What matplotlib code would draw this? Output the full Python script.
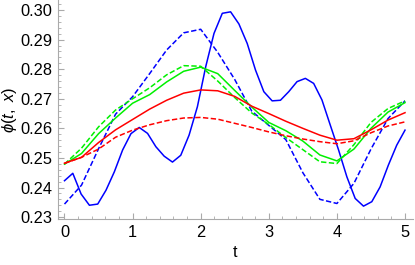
import numpy as np
import matplotlib.pyplot as plt
from matplotlib.ticker import MultipleLocator, FormatStrFormatter

plt.rcParams['font.family'] = ['Liberation Sans', 'DejaVu Sans']
plt.rcParams['mathtext.fontset'] = 'custom'
plt.rcParams['mathtext.rm'] = 'Liberation Sans'
plt.rcParams['mathtext.it'] = 'Liberation Sans:italic'

# smooth curves, read every 0.25 in t
t = [0.0, 0.25, 0.5, 0.75, 1.0, 1.25, 1.5, 1.75, 2.0, 2.25, 2.5,
     2.75, 3.0, 3.25, 3.5, 3.75, 4.0, 4.25, 4.5, 4.75, 5.0]

blue_dash = [0.2344, 0.2408, 0.2531, 0.2648, 0.2707, 0.2785, 0.2865, 0.2923, 0.2935, 0.2857, 0.2765,
             0.2658, 0.2610, 0.2562, 0.2450, 0.2360, 0.2346, 0.2414, 0.2530, 0.2633, 0.2693]
green_dash = [0.2479, 0.2533, 0.2605, 0.2662, 0.2700, 0.2737, 0.2781, 0.2812, 0.2810, 0.2760, 0.2704,
              0.2652, 0.2613, 0.2569, 0.2528, 0.2487, 0.2481, 0.2545, 0.2620, 0.2667, 0.2693]
green_solid = [0.2479, 0.2515, 0.2582, 0.2635, 0.2685, 0.2714, 0.2757, 0.2793, 0.2807, 0.2785, 0.2728,
               0.2672, 0.2620, 0.2592, 0.2557, 0.2510, 0.2490, 0.2530, 0.2600, 0.2655, 0.2687]
red_solid = [0.2482, 0.2502, 0.2552, 0.2595, 0.2630, 0.2665, 0.2695, 0.2719, 0.2730, 0.2727, 0.2708,
             0.2675, 0.2650, 0.2624, 0.2600, 0.2577, 0.2560, 0.2565, 0.2595, 0.2628, 0.2653]
red_dash = [0.2482, 0.2502, 0.2530, 0.2570, 0.2594, 0.2612, 0.2626, 0.2635, 0.2637, 0.2631, 0.2617,
            0.2603, 0.2588, 0.2575, 0.2564, 0.2555, 0.2548, 0.2558, 0.2585, 0.2608, 0.2622]

# jagged blue curve, 42 samples on [0, 5]
t_blue = np.linspace(0, 5, 42)
blue_solid = [0.2423, 0.2448, 0.2378, 0.2340, 0.2344, 0.2391, 0.2453, 0.2527, 0.2582, 0.2603,
              0.2583, 0.2538, 0.2506, 0.2486, 0.2509, 0.2577, 0.2673, 0.2808, 0.2921, 0.2989,
              0.2994, 0.2953, 0.2887, 0.2797, 0.2724, 0.2693, 0.2695, 0.2724, 0.2758, 0.2769,
              0.2752, 0.2696, 0.2611, 0.2527, 0.2436, 0.2363, 0.2337, 0.2352, 0.2402, 0.2476,
              0.2543, 0.2594]

fig = plt.figure(figsize=(4.15, 2.65), dpi=100)
ax = fig.add_axes([0.139, 0.173, 0.855, 0.827])

lw = 1.1
dash = (0, (3.5, 1.6))
ax.plot(t_blue, blue_solid, color='#0000ff', lw=lw)
ax.plot(t, blue_dash, color='#0000ff', lw=lw, linestyle=dash)
ax.plot(t, green_solid, color='#00f000', lw=lw)
ax.plot(t, green_dash, color='#00f000', lw=lw, linestyle=dash)
ax.plot(t, red_solid, color='#ff0000', lw=lw)
ax.plot(t, red_dash, color='#ff0000', lw=lw, linestyle=dash)

ax.set_xlim(-0.1, 5.11)
ax.set_ylim(0.2293, 0.3034)

ax.xaxis.set_major_locator(MultipleLocator(1))
ax.xaxis.set_minor_locator(MultipleLocator(0.2))
ax.yaxis.set_major_locator(MultipleLocator(0.01))
ax.yaxis.set_minor_locator(MultipleLocator(0.002))
ax.yaxis.set_major_formatter(FormatStrFormatter('%.2f'))

for s in ['top', 'right']:
    ax.spines[s].set_visible(False)
for s in ['left', 'bottom']:
    ax.spines[s].set_color('#aaaaaa')
    ax.spines[s].set_linewidth(0.8)

ax.tick_params(which='both', direction='in', color='#aaaaaa', labelsize=11.8, labelcolor='black')
ax.tick_params(which='major', length=4, width=0.8, pad=4)
ax.tick_params(which='minor', length=2.2, width=0.6)

ax.set_xlabel('t', fontsize=11.8, labelpad=4)
ax.set_ylabel(r'$\phi(t,\ x)$', fontsize=12, labelpad=1)

fig.savefig('out.png', dpi=100)
